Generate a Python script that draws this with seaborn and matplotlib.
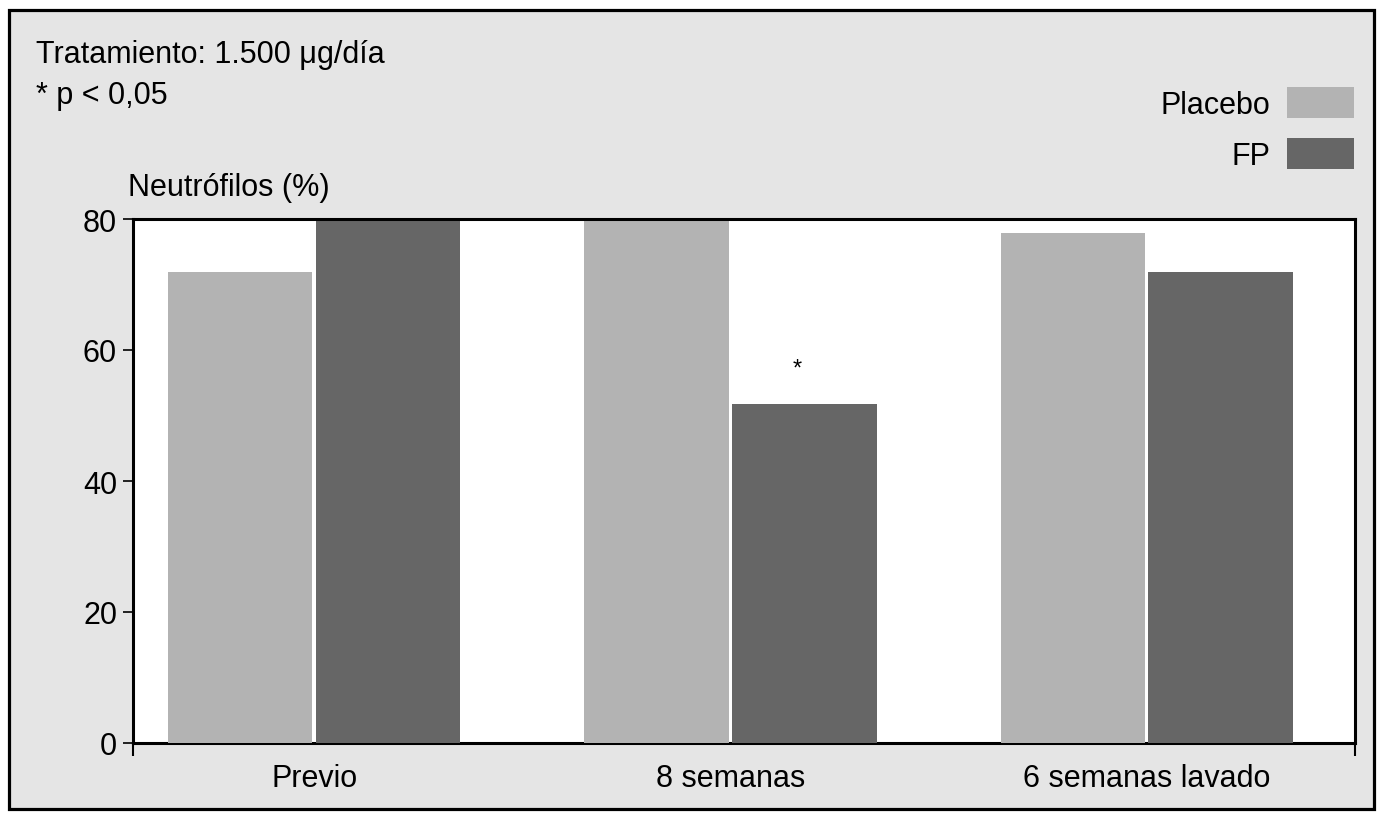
import matplotlib
matplotlib.use("Agg")
import matplotlib.pyplot as plt
import matplotlib.patches as mpatches
import seaborn as sns
import pandas as pd

# ---- data ----
categories = ["Previo", "8 semanas", "6 semanas lavado"]
placebo = [71.9, 80.0, 77.9]
fp = [80.0, 51.8, 71.9]
series_names = ["Placebo", "FP"]
yticks = [0, 20, 40, 60, 80]
significant = [False, True, False]  # FP vs placebo, p < 0.05

df = pd.DataFrame({
    "Momento": categories * 2,
    "Grupo": [series_names[0]] * 3 + [series_names[1]] * 3,
    "Valor": placebo + fp,
})

sns.set_theme(style="white")
plt.rcParams["font.family"] = ["Liberation Sans", "DejaVu Sans"]
for k in ["text.color", "axes.labelcolor", "xtick.color", "ytick.color"]:
    plt.rcParams[k] = "black"
FS = 22

W, H = 1383, 820
fig = plt.figure(figsize=(W / 100, H / 100), dpi=100, facecolor="white")

# outer framed panel
fig.patches.append(mpatches.Rectangle((9 / W, 1 - 810 / H), 1365 / W, 799 / H,
                                      transform=fig.transFigure, facecolor="#e5e5e5",
                                      edgecolor="black", linewidth=2.3, zorder=-1))

ax = fig.add_axes([133 / W, 1 - 744 / H, (1355 - 133) / W, (744 - 220) / H])
ax.set_facecolor("white")

palette = {"Placebo": "#b3b3b3", "FP": "#666666"}
sns.barplot(data=df, x="Momento", y="Valor", hue="Grupo", order=categories,
            hue_order=series_names, palette=palette, width=0.71, gap=0.022,
            errorbar=None, saturation=1, linewidth=0, legend=True, ax=ax)

for p in ax.patches:
    p.set_zorder(3)

ax.set_xlim(-0.435, 2.5)
ax.set_ylim(0, 80)
ax.set_yticks(yticks)
ax.set_yticklabels([str(v) for v in yticks], fontsize=FS)
ax.set_xticks(range(len(categories)))
ax.set_xticklabels(categories, fontsize=FS)
ax.set_xlabel("")
ax.set_ylabel("")

for name, sp in ax.spines.items():
    sp.set_visible(True)
    sp.set_color("black")
    sp.set_linewidth(2.2)
ax.spines["bottom"].set_zorder(2.5)
ax.spines["top"].set_zorder(4)
ax.spines["left"].set_zorder(4)
ax.spines["right"].set_zorder(4)

ax.tick_params(axis="y", direction="out", length=7.5, width=1.2, pad=4,
               colors="black", labelcolor="black", left=True)
ax.tick_params(axis="x", which="major", length=0, pad=14.5, labelcolor="black")
ax.set_xticks([-0.435, 2.5], minor=True)
ax.tick_params(axis="x", which="minor", direction="out", length=9.5, width=1.5,
               colors="black", bottom=True)

# significance marks
for i, sig in enumerate(significant):
    if sig:
        ax.text(i + 0.16, fp[i] + 5.4, "*", ha="center", va="center",
                fontsize=17, color="black", zorder=5)

# legend (labels left of swatches)
handles, labels = ax.get_legend_handles_labels()
if ax.get_legend() is not None:
    ax.get_legend().remove()
fig.legend(handles, labels, loc="upper right",
           bbox_to_anchor=(1354 / W, 1 - 88 / H), frameon=False,
           markerfirst=False, fontsize=FS, handlelength=2.2, handleheight=1.2,
           handletextpad=0.55, labelspacing=0.58, borderpad=0, borderaxespad=0,
           labelcolor="black")

# annotations
fig.text(36 / W, 1 - 63 / H, "Tratamiento: 1.500 μg/día", fontsize=FS,
         ha="left", va="baseline", color="black")
fig.text(36 / W, 1 - 104 / H, "* p < 0,05", fontsize=FS,
         ha="left", va="baseline", color="black")
fig.text(128 / W, 1 - 196 / H, "Neutrófilos (%)", fontsize=FS,
         ha="left", va="baseline", color="black")

fig.savefig("out.png", dpi=100, facecolor="white")
